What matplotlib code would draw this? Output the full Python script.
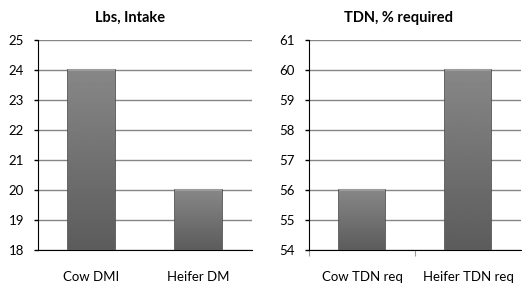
import matplotlib.pyplot as plt
import numpy as np

# data
intake_labels = ['Cow DMI', 'Heifer DM']
intake_values = [24, 20]
tdn_labels = ['Cow TDN req', 'Heifer TDN req']
tdn_values = [56, 60]

plt.rcParams['font.family'] = ['Lato', 'DejaVu Sans']

W, H = 522, 284
fig = plt.figure(figsize=(W / 100, H / 100), dpi=100)

grad = np.linspace(0.36, 0.53, 256).reshape(-1, 1)


def gradient_bars(ax, labels, values, ymin, ymax):
    x = np.arange(len(labels))
    width = 0.43
    bars = ax.bar(x, np.array(values) - ymin, bottom=ymin, width=width,
                  color='#6e6e6e', edgecolor='#4a4a4a', linewidth=1.2, zorder=3)
    for rect in bars:
        x0, y0 = rect.get_x(), rect.get_y()
        w, h = rect.get_width(), rect.get_height()
        im = ax.imshow(grad, cmap='gray', vmin=0, vmax=1, aspect='auto',
                       extent=(x0, x0 + w, y0, y0 + h), origin='lower',
                       zorder=3.5, interpolation='bilinear')
        im.set_clip_path(rect)
        # light strip on top
        ax.plot([x0, x0 + w], [y0 + h, y0 + h], color='#9c9c9c', lw=1.5,
                zorder=4, solid_capstyle='butt')
    ax.set_xlim(-0.5, len(labels) - 0.5)
    ax.set_ylim(ymin, ymax)
    ax.set_yticks(range(ymin, ymax + 1))
    ax.set_xticks(x)
    ax.set_xticklabels(labels)
    ax.grid(axis='y', color='#858585', lw=1, zorder=1)
    ax.set_axisbelow(True)
    for s in ['top', 'right']:
        ax.spines[s].set_visible(False)
    ax.spines['left'].set_color('black')
    ax.spines['bottom'].set_color('black')
    ax.tick_params(axis='y', length=3, width=1, pad=7, labelsize=9.5)
    ax.tick_params(axis='x', length=0, pad=15, labelsize=9.5)


ax1 = fig.add_axes([38 / W, 1 - 250 / H, 214 / W, 210 / H])
gradient_bars(ax1, intake_labels, intake_values, 18, 25)

ax2 = fig.add_axes([309 / W, 1 - 250 / H, 212 / W, 210 / H])
gradient_bars(ax2, tdn_labels, tdn_values, 54, 61)
# category divider ticks on the right chart
ax2.set_xticks([-0.5, 0.5], minor=True)
ax2.tick_params(axis='x', which='minor', length=4, width=0.8, color='#999999')

fig.text(130 / W, 1 - 18 / H, 'Lbs, Intake', ha='center', va='center',
         fontsize=10.5, fontweight='bold')
fig.text(398 / W, 1 - 18 / H, 'TDN, % required', ha='center', va='center',
         fontsize=10.5, fontweight='bold')

fig.savefig('out.png', dpi=100)
